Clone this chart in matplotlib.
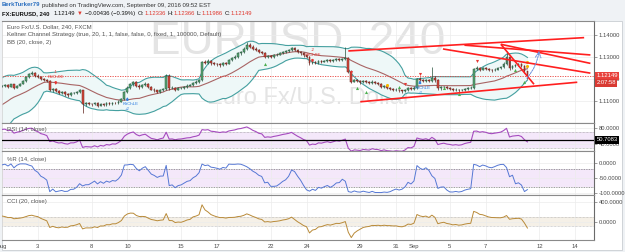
import numpy as np
import pandas as pd
import matplotlib
matplotlib.use("Agg")
import matplotlib.pyplot as plt
from matplotlib.patches import Rectangle

W, H = 625, 252

# 4h candles, x = candle number counted from Aug 1 00:00; 20 warm-up candles before it
warmup_closes = [1.0995, 1.0990, 1.1000, 1.0985, 1.1010, 1.1058, 1.1060, 1.1070, 1.1080, 1.1075,
                 1.1065, 1.1072, 1.1070, 1.1068, 1.1075, 1.1150, 1.1165, 1.1170, 1.1172, 1.1168]
warmup_highs = [1.1000, 1.0999, 1.1004, 1.1003, 1.1014, 1.1062, 1.1068, 1.1075, 1.1085, 1.1086,
                1.1078, 1.1076, 1.1077, 1.1074, 1.1080, 1.1155, 1.1172, 1.1175, 1.1176, 1.1175]
warmup_lows = [1.0984, 1.0984, 1.0987, 1.0980, 1.0982, 1.1005, 1.1050, 1.1055, 1.1066, 1.1070,
               1.1060, 1.1061, 1.1064, 1.1062, 1.1065, 1.1072, 1.1145, 1.1160, 1.1165, 1.1163]
first_open = 1.0988

closes = [
    1.1168, 1.1172, 1.1165, 1.1175, 1.1160, 1.1170,  # Aug 1
    1.1178, 1.1190, 1.1208, 1.1222, 1.1226, 1.1215,
    1.1210, 1.1200, 1.1196, 1.1190, 1.1150, 1.1155,
    1.1145, 1.1138, 1.1140, 1.1132, 1.1128, 1.1135,
    1.1135, 1.1140, 1.1150, 1.1085, 1.1090, 1.1088,
    1.1085, 1.1092, 1.1080, 1.1088, 1.1082, 1.1090,  # Aug 8
    1.1086, 1.1092, 1.1090, 1.1098, 1.1110, 1.1140,
    1.1160, 1.1175, 1.1185, 1.1170, 1.1162, 1.1172,
    1.1178, 1.1165, 1.1152, 1.1148, 1.1142, 1.1150,
    1.1155, 1.1215, 1.1158, 1.1160, 1.1152, 1.1158,
    1.1160, 1.1165, 1.1170, 1.1172, 1.1180, 1.1185,  # Aug 15
    1.1195, 1.1275, 1.1272, 1.1280, 1.1270, 1.1268,
    1.1265, 1.1262, 1.1270, 1.1268, 1.1285, 1.1292,
    1.1300, 1.1315, 1.1322, 1.1335, 1.1352, 1.1345,
    1.1336, 1.1330, 1.1321, 1.1318, 1.1298, 1.1302,
    1.1300, 1.1306, 1.1310, 1.1315, 1.1321, 1.1325,  # Aug 22
    1.1330, 1.1338, 1.1330, 1.1322, 1.1315, 1.1306,
    1.1300, 1.1270, 1.1275, 1.1272, 1.1280, 1.1278,
    1.1282, 1.1285, 1.1280, 1.1284, 1.1288, 1.1286,
    1.1290, 1.1295, 1.1232, 1.1188, 1.1195, 1.1190,
    1.1185, 1.1190, 1.1186, 1.1182, 1.1188, 1.1180,  # Aug 29
    1.1178, 1.1165, 1.1168, 1.1158, 1.1155, 1.1150,
    1.1152, 1.1148, 1.1146, 1.1150, 1.1158, 1.1155,
    1.1160, 1.1200, 1.1195, 1.1192, 1.1196, 1.1190,
    1.1205, 1.1195, 1.1157, 1.1162, 1.1165, 1.1158,
    1.1155, 1.1150, 1.1152, 1.1148, 1.1150, 1.1155,  # Sep 5
    1.1158, 1.1160, 1.1245, 1.1248, 1.1242, 1.1248,
    1.1245, 1.1240, 1.1238, 1.1242, 1.1247, 1.1252,
    1.1268, 1.1300, 1.1248, 1.1258, 1.1262, 1.1265,
    1.1258, 1.1234, 1.1215,
]
highs = [
    1.1174, 1.1177, 1.1176, 1.1179, 1.1178, 1.1174,
    1.1182, 1.1194, 1.1213, 1.1228, 1.1234, 1.1230,
    1.1220, 1.1214, 1.1206, 1.1201, 1.1193, 1.1160,
    1.1160, 1.1150, 1.1146, 1.1144, 1.1137, 1.1140,
    1.1140, 1.1145, 1.1155, 1.1152, 1.1096, 1.1094,
    1.1093, 1.1097, 1.1095, 1.1092, 1.1091, 1.1094,
    1.1095, 1.1097, 1.1096, 1.1103, 1.1116, 1.1145,
    1.1166, 1.1180, 1.1192, 1.1190, 1.1176, 1.1178,
    1.1184, 1.1182, 1.1168, 1.1157, 1.1152, 1.1155,
    1.1160, 1.1222, 1.1220, 1.1166, 1.1164, 1.1162,
    1.1165, 1.1170, 1.1175, 1.1178, 1.1186, 1.1196,
    1.1200, 1.1280, 1.1284, 1.1290, 1.1286, 1.1276,
    1.1273, 1.1270, 1.1276, 1.1276, 1.1290, 1.1298,
    1.1306, 1.1320, 1.1328, 1.1342, 1.1366, 1.1360,
    1.1352, 1.1342, 1.1336, 1.1328, 1.1322, 1.1308,
    1.1308, 1.1311, 1.1316, 1.1320, 1.1326, 1.1330,
    1.1336, 1.1345, 1.1342, 1.1334, 1.1326, 1.1320,
    1.1312, 1.1303, 1.1280, 1.1279, 1.1285, 1.1284,
    1.1287, 1.1290, 1.1289, 1.1288, 1.1292, 1.1292,
    1.1296, 1.1342, 1.1300, 1.1238, 1.1201, 1.1200,
    1.1195, 1.1196, 1.1194, 1.1190, 1.1193, 1.1192,
    1.1186, 1.1182, 1.1173, 1.1172, 1.1163, 1.1160,
    1.1157, 1.1156, 1.1152, 1.1155, 1.1163, 1.1162,
    1.1166, 1.1206, 1.1207, 1.1200, 1.1201, 1.1200,
    1.1254, 1.1215, 1.1198, 1.1168, 1.1170, 1.1169,
    1.1163, 1.1159, 1.1157, 1.1156, 1.1155, 1.1160,
    1.1163, 1.1166, 1.1250, 1.1256, 1.1252, 1.1253,
    1.1253, 1.1250, 1.1245, 1.1247, 1.1252, 1.1258,
    1.1274, 1.1327, 1.1305, 1.1264, 1.1268, 1.1272,
    1.1270, 1.1262, 1.1237,
]
lows = [
    1.1162, 1.1164, 1.1160, 1.1162, 1.1156, 1.1157,
    1.1166, 1.1175, 1.1186, 1.1204, 1.1216, 1.1210,
    1.1205, 1.1195, 1.1190, 1.1185, 1.1145, 1.1142,
    1.1140, 1.1130, 1.1133, 1.1125, 1.1120, 1.1124,
    1.1130, 1.1131, 1.1136, 1.1046, 1.1078, 1.1082,
    1.1079, 1.1081, 1.1074, 1.1076, 1.1077, 1.1079,
    1.1081, 1.1083, 1.1085, 1.1087, 1.1095, 1.1106,
    1.1136, 1.1155, 1.1170, 1.1165, 1.1156, 1.1158,
    1.1168, 1.1160, 1.1148, 1.1142, 1.1136, 1.1138,
    1.1145, 1.1150, 1.1152, 1.1153, 1.1147, 1.1148,
    1.1154, 1.1156, 1.1161, 1.1166, 1.1168, 1.1176,
    1.1181, 1.1192, 1.1265, 1.1268, 1.1264, 1.1262,
    1.1258, 1.1255, 1.1258, 1.1262, 1.1265, 1.1280,
    1.1288, 1.1296, 1.1310, 1.1318, 1.1330, 1.1340,
    1.1330, 1.1324, 1.1316, 1.1312, 1.1292, 1.1294,
    1.1294, 1.1296, 1.1302, 1.1306, 1.1311, 1.1317,
    1.1320, 1.1326, 1.1325, 1.1317, 1.1310, 1.1300,
    1.1295, 1.1264, 1.1266, 1.1267, 1.1268, 1.1273,
    1.1274, 1.1278, 1.1275, 1.1276, 1.1280, 1.1281,
    1.1282, 1.1286, 1.1225, 1.1182, 1.1184, 1.1185,
    1.1178, 1.1181, 1.1181, 1.1177, 1.1178, 1.1175,
    1.1173, 1.1160, 1.1161, 1.1153, 1.1150, 1.1144,
    1.1145, 1.1142, 1.1138, 1.1141, 1.1146, 1.1150,
    1.1150, 1.1156, 1.1190, 1.1186, 1.1188, 1.1185,
    1.1186, 1.1188, 1.1152, 1.1152, 1.1157, 1.1153,
    1.1150, 1.1145, 1.1146, 1.1143, 1.1144, 1.1146,
    1.1150, 1.1153, 1.1156, 1.1240, 1.1236, 1.1238,
    1.1240, 1.1234, 1.1232, 1.1234, 1.1238, 1.1243,
    1.1248, 1.1264, 1.1240, 1.1244, 1.1252, 1.1256,
    1.1252, 1.1228, 1.1199,
]

tick_pos = [0, 12, 30, 42, 60, 72, 90, 102, 120, 132, 138, 150, 162, 180, 192]
tick_labels = ["Aug", "3", "8", "10", "15", "17", "22", "24", "29", "31", "Sep", "5", "7", "12", "14"]
price_ticks = [1.11, 1.12, 1.13, 1.14]
last_price = 1.12149
last_rsi = 50.7083
countdown = "2:07:58"

# drawn trend lines (start x, start price, end x, end price)
trend_lines = [
    (116.0, 1.1326, 195.0, 1.1386),
    (120.0, 1.1097, 192.7, 1.1185),
    (154.9, 1.1352, 197.1, 1.1308),
    (147.7, 1.1335, 197.1, 1.1226),
    (167.1, 1.1356, 197.1, 1.1270),
    (167.1, 1.1356, 178.2, 1.1176),
]
forecast_arrow = (175.8, 1.1203, 179.9, 1.1326)

# strategy entries: (x, arrow tip price, label, qty)
short_entries = [(18, 1.1172, "KltChSE", "-1"), (104, 1.1272, "KltChSE", "-2")]
long_entries = [(42, 1.1119, "KltChLE", "+2"), (140, 1.1194, "KltChLE", "+2")]
green_marks_x = [88, 119, 122, 133, 148, 153, 172, 175]
green_marks_y = [1.1269, 1.1157, 1.1142, 1.1164, 1.1157, 1.1131, 1.1239, 1.1184]
red_marks_x = [117, 135, 140, 159]
red_marks_y = [1.1231, 1.1176, 1.1224, 1.1281]
yellow_marks_x = [129, 176, 176]
yellow_marks_y = [1.1172, 1.1278, 1.1260]

# ---------------------------------------------------------------- data frame
c = pd.Series(warmup_closes + closes)
hi = pd.Series(warmup_highs + highs)
lo = pd.Series(warmup_lows + lows)
o = pd.Series([first_open] + list(c[:-1]))
x = np.arange(len(c)) - len(warmup_closes)

basis = c.rolling(20).mean()
dev = c.rolling(20).std(ddof=0)
bb_up = basis + 2 * dev
bb_lo = basis - 2 * dev

delta = c.diff()
up = delta.clip(lower=0).ewm(alpha=1 / 14, adjust=False).mean()
dn = (-delta.clip(upper=0)).ewm(alpha=1 / 14, adjust=False).mean()
rsi = 100 - 100 / (1 + up / dn)

hh = hi.rolling(14).max()
ll = lo.rolling(14).min()
wr = 100 * (c - hh) / (hh - ll)

sma20 = c.rolling(20).mean()
mad = c.rolling(20).apply(lambda w: np.mean(np.abs(w - w.mean())), raw=True)
cci = (c - sma20) / (0.015 * mad)

# ---------------------------------------------------------------- figure
plt.rcParams["font.family"] = ["Liberation Sans", "DejaVu Sans"]
fig = plt.figure(figsize=(W / 100, H / 100), dpi=100, facecolor="#eff2f5")


def rect(x0, y0, x1, y1):
    return [x0 / W, 1 - y1 / H, (x1 - x0) / W, (y1 - y0) / H]


fig.patches.append(Rectangle((2 / W, 1 - 250 / H), 620 / W, 229.5 / H, transform=fig.transFigure,
                             facecolor="white", edgecolor="#c9cdd2", lw=0.6, zorder=-5))

ax_p = fig.add_axes(rect(2, 20.5, 594, 123.3))
ax_r = fig.add_axes(rect(2, 123.3, 594, 151), sharex=ax_p)
ax_w = fig.add_axes(rect(2, 151, 594, 195.3), sharex=ax_p)
ax_c = fig.add_axes(rect(2, 195.3, 594, 240), sharex=ax_p)
axes = [ax_p, ax_r, ax_w, ax_c]

TXT = "#4a4a4a"
FS = 4.2
for ax in axes:
    ax.set_facecolor("white")
    ax.yaxis.tick_right()
    ax.tick_params(axis="y", length=2, width=0.5, color="#777777", labelsize=FS, labelcolor=TXT, pad=1.5)
    ax.tick_params(axis="x", length=0, labelsize=FS, labelcolor=TXT, pad=3)
    ax.set_xticks(tick_pos)
    ax.grid(True, color="#ececec", lw=0.5)
    ax.set_axisbelow(True)
    for side in ["top", "bottom"]:
        ax.spines[side].set_color("#8a8a8a")
        ax.spines[side].set_linewidth(0.8)
    ax.spines["left"].set_color("#d0d0d0")
    ax.spines["left"].set_linewidth(0.5)
    ax.spines["right"].set_color("#6a6a6a")
    ax.spines["right"].set_linewidth(0.8)
    if ax is not ax_c:
        ax.tick_params(axis="x", labelbottom=False)
ax_c.set_xticklabels(tick_labels)
ax_p.set_xlim(0, 198.3)

# ---------------------------------------------------------------- price panel
ax_p.set_ylim(1.1000, 1.14632)
ax_p.set_yticks(price_ticks)
ax_p.set_yticklabels([f"{v:.5f}" for v in price_ticks])

ax_p.text(0.5, 0.79, "EURUSD, 240", transform=ax_p.transAxes, fontsize=33, color="#e4e4e4",
          ha="center", va="center", zorder=0.5)
ax_p.text(0.519, 0.25, "Euro Fx/U.S. Dollar", transform=ax_p.transAxes, fontsize=17, color="#e4e4e4",
          ha="center", va="center", zorder=0.5)

ax_p.fill_between(x, bb_up, bb_lo, color="#eef8f8", lw=0, zorder=1)
ax_p.plot(x, bb_up, color="#45a0a0", lw=0.8, zorder=2)
ax_p.plot(x, bb_lo, color="#45a0a0", lw=0.8, zorder=2)
ax_p.plot(x, basis, color="#a86464", lw=0.8, zorder=2)
ax_p.axhline(last_price, color="#e8413b", lw=0.6, ls=(0, (1.5, 1.5)), zorder=2)

rising = c >= o
body_lo = np.minimum(o, c)
body_h = np.maximum(np.abs(c - o), 0.00004)
face = np.where(rising, "#5aa874", "#db4a3e")
edge = np.where(rising, "#24503a", "#5e1f18")
ax_p.vlines(x, lo, hi, colors=edge, lw=0.5, zorder=3)
ax_p.bar(x, body_h, bottom=body_lo, width=0.62, color=face, edgecolor=edge, lw=0.35, zorder=4)

for x0, y0, x1, y1 in trend_lines:
    ax_p.plot([x0, x1], [y0, y1], color="#ff1f1f", lw=1.2, solid_capstyle="butt", zorder=6)
fx0, fy0, fx1, fy1 = forecast_arrow
ax_p.annotate("", xy=(fx1, fy1), xytext=(fx0, fy0),
              arrowprops=dict(arrowstyle="->", color="#6b8fdc", lw=0.7, ls=(0, (2, 1)),
                              connectionstyle="arc3,rad=0.15", shrinkA=0, shrinkB=0), zorder=6)

ax_p.scatter(green_marks_x, green_marks_y, marker="^", s=5, color="#4caf50", lw=0, zorder=5)
ax_p.scatter(red_marks_x, red_marks_y, marker="v", s=5, color="#e53935", lw=0, zorder=5)
ax_p.scatter(yellow_marks_x, yellow_marks_y, marker="o", s=5, color="#f5b800", lw=0, zorder=5)

for ex, tip, lab, qty in short_entries:
    ax_p.annotate("", xy=(ex, tip), xytext=(ex, tip + 0.0016),
                  arrowprops=dict(arrowstyle="-|>", color="#e53935", lw=0.9, mutation_scale=3,
                                  shrinkA=0, shrinkB=0), zorder=7)
    ax_p.text(ex, tip + 0.0036, lab, color="#e53935", fontsize=3.2, ha="center", va="center", zorder=7)
    ax_p.text(ex, tip + 0.0058, qty, color="#e53935", fontsize=3.2, ha="center", va="center", zorder=7)
for ex, tip, lab, qty in long_entries:
    ax_p.annotate("", xy=(ex, tip), xytext=(ex, tip - 0.0016),
                  arrowprops=dict(arrowstyle="-|>", color="#2f7fe0", lw=0.9, mutation_scale=3,
                                  shrinkA=0, shrinkB=0), zorder=7)
    ax_p.text(ex + 1, tip - 0.0034, lab, color="#2f7fe0", fontsize=3.2, ha="center", va="center", zorder=7)
    ax_p.text(ex, tip - 0.0056, qty, color="#2f7fe0", fontsize=3.2, ha="center", va="center", zorder=7)

legend_lines = ["Euro Fx/U.S. Dollar, 240, FXCM",
                "Keltner Channel Strategy (true, 20, 1, 1, false, false, 0, fixed, 1, 100000, Default)",
                "BB (20, close, 2)"]
for i, s in enumerate(legend_lines):
    fig.text(7 / W, 1 - (27 + 7.6 * i) / H, s, fontsize=4.3, color="#555555", va="center", ha="left")

ytr = ax_p.get_yaxis_transform()
ax_p.text(1.004, last_price, f"{last_price:.5f}", transform=ytr, fontsize=FS, color="white",
          ha="left", va="center", zorder=10, clip_on=False,
          bbox=dict(boxstyle="square,pad=0.25", fc="#e8413b", ec="none"))
ax_p.text(1.004, 1.1183, countdown, transform=ytr, fontsize=FS, color="white",
          ha="left", va="center", zorder=10, clip_on=False,
          bbox=dict(boxstyle="square,pad=0.25", fc="#d93a33", ec="none"))

# ---------------------------------------------------------------- RSI
ax_r.set_ylim(22.5, 91.75)
ax_r.set_yticks([80, 40])
ax_r.set_yticklabels(["80.0000", "40.0000"])
ax_r.axhspan(30, 70, color="#f4e8fa", lw=0, zorder=0.5)
for lvl in (70, 30):
    ax_r.axhline(lvl, color="#9a9a9a", lw=0.5, ls=(0, (1, 1)), zorder=1)
ax_r.plot(x, rsi, color="#a64bbf", lw=0.8, zorder=3)
ax_r.axhline(last_rsi, color="black", lw=0.9, zorder=4)
ax_r.text(1.004, last_rsi, f"{last_rsi:.4f}", transform=ax_r.get_yaxis_transform(), fontsize=FS,
          color="white", ha="left", va="center", zorder=10, clip_on=False,
          bbox=dict(boxstyle="square,pad=0.25", fc="black", ec="none"))

# ---------------------------------------------------------------- %R
ax_w.set_ylim(-106.2, 39)
ax_w.set_yticks([0, -50, -100])
ax_w.set_yticklabels(["0.0000", "-50.0000", "-100.0000"])
ax_w.axhspan(-80, -20, color="#f4e8fa", lw=0, zorder=0.5)
for lvl in (-20, -80):
    ax_w.axhline(lvl, color="#7a7a7a", lw=0.6, ls=(0, (1, 1)), zorder=1)
ax_w.plot(x, wr, color="#5577d4", lw=0.7, zorder=3)

# ---------------------------------------------------------------- CCI
ax_c.set_ylim(-385, 546)
ax_c.set_yticks([400, 0])
ax_c.set_yticklabels(["400.0000", "0.0000"])
ax_c.axhspan(-100, 100, color="#f5f0e7", lw=0, zorder=0.5)
for lvl in (100, -100):
    ax_c.axhline(lvl, color="#b0b0b0", lw=0.5, ls=(0, (1, 1)), zorder=1)
ax_c.plot(x, cci, color="#b98a38", lw=0.7, zorder=3)

for ax, title, ypx in [(ax_r, "RSI (14, close)", 129.5), (ax_w, "%R (14, close)", 159.5),
                       (ax_c, "CCI (20, close)", 202)]:
    fig.text(7 / W, 1 - ypx / H, title, fontsize=4.3, color="#555555", va="center", ha="left")

# ---------------------------------------------------------------- header
renderer = fig.canvas.get_renderer()


def chain(pieces, xpx, ypx, size):
    # pieces: (text, colour, weight, gap in px before it)
    for s, color, weight, gap in pieces:
        xpx += gap
        t = fig.text(xpx / W, 1 - ypx / H, s, fontsize=size, color=color, fontweight=weight,
                     ha="left", va="center")
        xpx += t.get_window_extent(renderer=renderer).width


RED = "#e0392f"
BLK = "#111111"
chain([("BerkTurker79", "#2a6fc0", "bold", 0),
       ("published on TradingView.com, September 09, 2016 09:52 EST", "#333333", "normal", 2)], 2, 5, 4.3)
chain([("FX:EURUSD, 240", BLK, "bold", 0), ("1.12149", BLK, "normal", 4), ("\u25bc", RED, "normal", 2),
       ("\u22120.00436 (\u22120.39%)", BLK, "normal", 2), ("O:", BLK, "normal", 3),
       ("1.12336", RED, "normal", 0), ("H:", BLK, "normal", 2), ("1.12366", RED, "normal", 0),
       ("L:", BLK, "normal", 2), ("1.11986", RED, "normal", 0), ("C:", BLK, "normal", 2),
       ("1.12149", RED, "normal", 0)], 2, 13.5, 4.2)

fig.savefig("out.png", dpi=100, facecolor=fig.get_facecolor())
